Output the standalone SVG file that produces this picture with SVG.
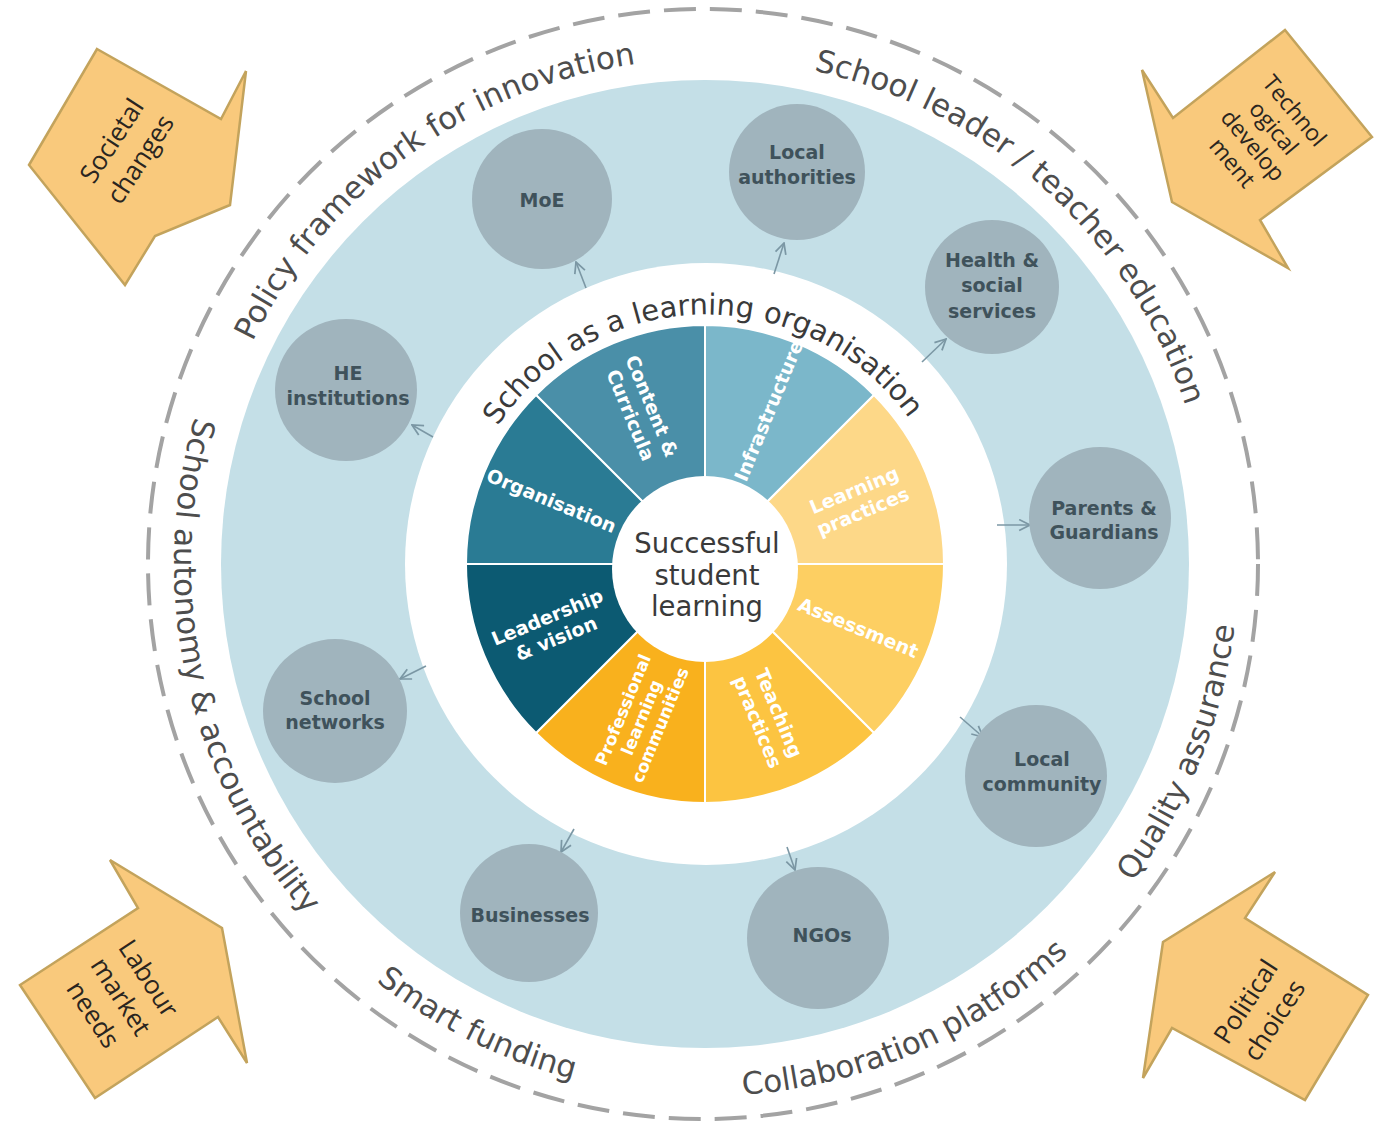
<svg xmlns="http://www.w3.org/2000/svg" width="1378" height="1126" viewBox="0 0 1378 1126">
<defs>
<style>
.ring{font-family:"DejaVu Sans",Verdana,sans-serif;font-size:31px;fill:#4d4d4d}
.inner{font-family:"DejaVu Sans",Verdana,sans-serif;font-size:29px;fill:#3a3a3a}
.seg{font-family:"DejaVu Sans",Verdana,sans-serif;font-weight:bold;font-size:19px;fill:#ffffff;text-anchor:middle}
.node circle{fill:#a0b4bd}
.node text{font-family:"DejaVu Sans",Verdana,sans-serif;font-weight:bold;font-size:19px;fill:#3f525b;text-anchor:middle}
.ext polygon{fill:#f9c97c;stroke:#c3a35c;stroke-width:2.5;stroke-linejoin:miter}
.ext text{font-family:"Open Sans","Liberation Sans",sans-serif;font-size:26px;fill:#2a2520;text-anchor:middle}
.conn line{stroke:#7b97a4;stroke-width:1.6;marker-end:url(#ah)}
.center{font-family:"DejaVu Sans",Verdana,sans-serif;font-size:27.5px;fill:#3a3a3a;text-anchor:middle}
</style>
<marker id="ah" viewBox="0 0 12 12" refX="11" refY="6" markerWidth="13" markerHeight="13" markerUnits="userSpaceOnUse" orient="auto">
<path d="M1,1 L11,6 L1,11" fill="none" stroke="#7b97a4" stroke-width="1.6"/>
</marker>
<path id="pPolicy" d="M203.8,616.8 A505,505 0 0 1 911.4,102.7"/>
<path id="pLeader" d="M550,83.7 A505,505 0 0 1 1199.9,669"/>
<path id="pAuto" d="M345.9,172.4 A532,532 0 0 0 546.9,1071.7"/>
<path id="pFund" d="M175.1,597.4 A532,532 0 0 0 1000.4,1007.1"/>
<path id="pCollab" d="M388.8,991.1 A532,532 0 0 0 1234.5,625.1"/>
<path id="pQual" d="M782.8,1090.4 A532,532 0 0 0 1123.5,234.3"/>
<path id="pSchool" d="M456.6,547.4 A250,250 0 0 1 954.5,537"/>
</defs>
<rect width="1378" height="1126" fill="#ffffff"/>

<!-- outer dashed ring -->
<circle cx="703" cy="564" r="555" fill="none" stroke="#a3a3a3" stroke-width="4" stroke-dasharray="32 14"/>
<!-- light blue disk -->
<circle cx="705" cy="564" r="484" fill="#c4dfe7"/>
<!-- white ring -->
<circle cx="706" cy="564" r="301" fill="#ffffff"/>

<!-- ring texts (one text per word, along the arcs) -->
<g id="ring-texts" text-anchor="middle">
<text class="ring"><textPath href="#pPolicy" startOffset="327.5">Policy</textPath></text>
<text class="ring"><textPath href="#pPolicy" startOffset="466">framework</textPath></text>
<text class="ring"><textPath href="#pPolicy" startOffset="580.6">for</textPath></text>
<text class="ring"><textPath href="#pPolicy" startOffset="693.6">innovation</textPath></text>

<text class="ring"><textPath href="#pLeader" startOffset="318.6">School</textPath></text>
<text class="ring"><textPath href="#pLeader" startOffset="429">leader</textPath></text>
<text class="ring"><textPath href="#pLeader" startOffset="493.2">/</textPath></text>
<text class="ring"><textPath href="#pLeader" startOffset="567.6">teacher</textPath></text>
<text class="ring"><textPath href="#pLeader" startOffset="713.8">education</textPath></text>

<text class="ring"><textPath href="#pAuto" startOffset="342.4">School</textPath></text>
<text class="ring"><textPath href="#pAuto" startOffset="482.3">autonomy</textPath></text>
<text class="ring"><textPath href="#pAuto" startOffset="582.7">&amp;</textPath></text>
<text class="ring"><textPath href="#pAuto" startOffset="713.9">accountability</textPath></text>

<text class="ring"><textPath href="#pFund" startOffset="493.2">Smart</textPath></text>
<text class="ring"><textPath href="#pFund" startOffset="608.9">funding</textPath></text>

<text class="ring"><textPath href="#pCollab" startOffset="480">Collaboration</textPath></text>
<text class="ring"><textPath href="#pCollab" startOffset="665">platforms</textPath></text>

<text class="ring"><textPath href="#pQual" startOffset="472.9">Quality</textPath></text>
<text class="ring"><textPath href="#pQual" startOffset="617.4">assurance</textPath></text>

<text class="inner"><textPath href="#pSchool" startOffset="177.3">School</textPath></text>
<text class="inner"><textPath href="#pSchool" startOffset="251.1">as</textPath></text>
<text class="inner"><textPath href="#pSchool" startOffset="285.7">a</textPath></text>
<text class="inner"><textPath href="#pSchool" startOffset="363.2">learning</textPath></text>
<text class="inner"><textPath href="#pSchool" startOffset="522.3">organisation</textPath></text>
</g>

<!-- wheel -->
<g id="wheel" stroke="#ffffff" stroke-width="2">
<path id="seg-content" d="M705,564 L536,395 A239,239 0 0 1 705,325 Z" fill="#4a8fa8"/>
<path id="seg-infra" d="M705,564 L705,325 A239,239 0 0 1 874,395 Z" fill="#7bb7ca"/>
<path id="seg-learning" d="M705,564 L874,395 A239,239 0 0 1 944,564 Z" fill="#fdd888"/>
<path id="seg-assess" d="M705,564 L944,564 A239,239 0 0 1 874,733 Z" fill="#fdcf62"/>
<path id="seg-teach" d="M705,564 L874,733 A239,239 0 0 1 705,803 Z" fill="#fcc441"/>
<path id="seg-plc" d="M705,564 L705,803 A239,239 0 0 1 536,733 Z" fill="#f9b11d"/>
<path id="seg-lead" d="M705,564 L536,733 A239,239 0 0 1 466,564 Z" fill="#0c5a72"/>
<path id="seg-org" d="M705,564 L466,564 A239,239 0 0 1 536,395 Z" fill="#2a7b94"/>
</g>
<g id="wheel-labels">
<text class="seg" transform="translate(641.5,410.6) rotate(67.5)"><tspan x="0" y="-4.5">Content &amp;</tspan><tspan x="0" y="18.5">Curricula</tspan></text>
<text class="seg" transform="translate(768.5,410.6) rotate(-67.5)"><tspan x="0" y="7">Infrastructure</tspan></text>
<text class="seg" transform="translate(858.4,500.5) rotate(-22.5)"><tspan x="0" y="-4.5">Learning</tspan><tspan x="0" y="18.5">practices</tspan></text>
<text class="seg" transform="translate(858.4,627.5) rotate(22.5)"><tspan x="0" y="7">Assessment</tspan></text>
<text class="seg" transform="translate(768.5,717.4) rotate(67.5)"><tspan x="0" y="-4.5">Teaching</tspan><tspan x="0" y="18.5">practices</tspan></text>
<text class="seg" transform="translate(641.5,717.4) rotate(-67.5)" style="font-size:17px"><tspan x="0" y="-14">Professional</tspan><tspan x="0" y="6">learning</tspan><tspan x="0" y="26">communities</tspan></text>
<text class="seg" transform="translate(551.6,627.5) rotate(-22.5)"><tspan x="0" y="-4.5">Leadership</tspan><tspan x="0" y="18.5">&amp; vision</tspan></text>
<text class="seg" transform="translate(551.6,500.5) rotate(22.5)"><tspan x="0" y="7">Organisation</tspan></text>
</g>
<g id="center-node">
<circle cx="705" cy="569" r="93" fill="#ffffff"/>
<text class="center"><tspan x="707" y="553">Successful</tspan><tspan x="707" y="585">student</tspan><tspan x="707" y="616">learning</tspan></text>
</g>

<!-- connectors -->
<g id="connectors" class="conn">
<line x1="586" y1="288" x2="576" y2="262"/>
<line x1="433" y1="437" x2="412" y2="425"/>
<line x1="774" y1="274" x2="784" y2="243"/>
<line x1="922" y1="362" x2="946" y2="339"/>
<line x1="997" y1="525" x2="1030" y2="525"/>
<line x1="960" y1="717" x2="983" y2="737"/>
<line x1="787" y1="847" x2="795" y2="870"/>
<line x1="574" y1="829" x2="561" y2="852"/>
<line x1="426" y1="666" x2="400" y2="679"/>
</g>

<!-- stakeholder nodes -->
<g id="node-moe" class="node"><circle cx="542" cy="199" r="70"/><text x="542" y="207">MoE</text></g>
<g id="node-local-auth" class="node"><circle cx="797" cy="172" r="68"/><text><tspan x="797" y="159">Local</tspan><tspan x="797" y="184">authorities</tspan></text></g>
<g id="node-health" class="node"><circle cx="992" cy="287" r="67"/><text><tspan x="992" y="267">Health &amp;</tspan><tspan x="992" y="292">social</tspan><tspan x="992" y="318">services</tspan></text></g>
<g id="node-parents" class="node"><circle cx="1100" cy="518" r="71"/><text><tspan x="1104" y="515">Parents &amp;</tspan><tspan x="1104" y="539">Guardians</tspan></text></g>
<g id="node-community" class="node"><circle cx="1036" cy="776" r="71"/><text><tspan x="1042" y="766">Local</tspan><tspan x="1042" y="791">community</tspan></text></g>
<g id="node-ngos" class="node"><circle cx="818" cy="938" r="71"/><text x="822" y="942">NGOs</text></g>
<g id="node-business" class="node"><circle cx="529" cy="913" r="69"/><text x="530" y="922">Businesses</text></g>
<g id="node-networks" class="node"><circle cx="335" cy="711" r="72"/><text><tspan x="335" y="705">School</tspan><tspan x="335" y="729">networks</tspan></text></g>
<g id="node-he" class="node"><circle cx="346" cy="390" r="71"/><text><tspan x="348" y="380">HE</tspan><tspan x="348" y="405">institutions</tspan></text></g>

<!-- external influences -->
<g id="ext-societal" class="ext">
<polygon points="97,49 221,119 246,71 230,205 155,236 125,285 29,165"/>
<text transform="translate(126,150) rotate(-57)"><tspan x="0" y="-8">Societal</tspan><tspan x="0" y="26">changes</tspan></text>
</g>
<g id="ext-tech" class="ext">
<polygon points="1142,70 1173,118 1285,30 1372,137 1260,220 1288,268 1172,202"/>
<text transform="translate(1263,137) rotate(50)" style="font-size:23px"><tspan x="0" y="-33">Technol</tspan><tspan x="0" y="-6">ogical</tspan><tspan x="0" y="21">develop</tspan><tspan x="0" y="48">ment</tspan></text>
</g>
<g id="ext-labour" class="ext">
<polygon points="110,860 138,908 20,985 95,1098 218,1017 247,1063 222,928"/>
<text transform="translate(120,997) rotate(57)"><tspan x="0" y="-25">Labour</tspan><tspan x="0" y="8">market</tspan><tspan x="0" y="41">needs</tspan></text>
</g>
<g id="ext-political" class="ext">
<polygon points="1275,872 1245,918 1368,995 1305,1100 1172,1028 1143,1078 1163,942"/>
<text transform="translate(1260,1011) rotate(-57)"><tspan x="0" y="-8">Political</tspan><tspan x="0" y="26">choices</tspan></text>
</g>
</svg>
